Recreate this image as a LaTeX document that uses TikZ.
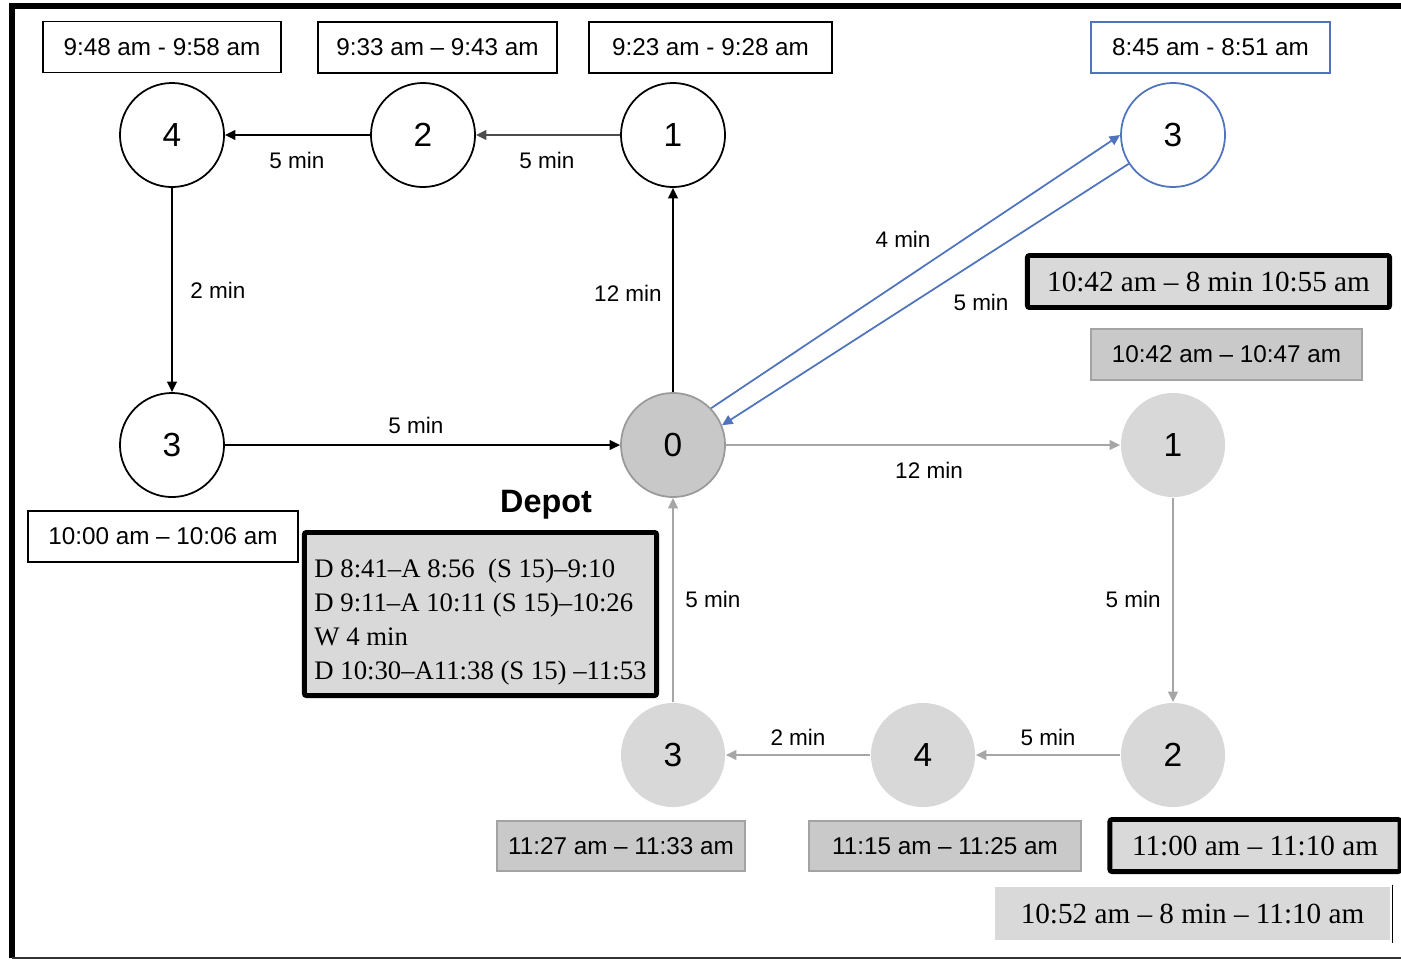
\documentclass[tikz,border=0pt]{standalone}
\usepackage{fontspec}
\setmainfont{Liberation Sans}
\newfontfamily\timesfont[Ligatures=TeX]{Liberation Serif}
\usetikzlibrary{arrows.meta}

\begin{document}
\begin{tikzpicture}[x=0.01cm, y=-0.01cm,
  visitNode/.style={circle, draw=black, line width=0.5pt, fill=white, minimum size=1.04cm, inner sep=0pt, font=\fontsize{9.5}{11}\selectfont},
  blueNode/.style={visitNode, draw=lineBlue},
  grayNode/.style={visitNode, draw=none, fill=colStop},
  depotNode/.style={visitNode, draw=lineDepot, fill=colDepot},
  timeBox/.style={rectangle, draw=black, line width=0.5pt, fill=white, inner sep=0pt, minimum height=0.51cm, font=\fontsize{6.9}{8}\selectfont},
  grayBox/.style={timeBox, draw=lineBox, fill=colBox},
  boldBox/.style={rectangle, draw=black, line width=1.4pt, fill=colNote, rounded corners=0.6pt, inner sep=0pt, minimum height=0.52cm, font=\timesfont\fontsize{8.3}{9.7}\selectfont},
  minLabel/.style={font=\fontsize{6.4}{7.5}\selectfont, inner sep=0pt},
  edgeBlack/.style={draw=black, line width=0.5pt, -{Triangle[length=3pt,width=2.8pt]}},
  edgeBlue/.style={edgeBlack, draw=lineBlue, -{Triangle[length=3pt,width=2.8pt,fill=lineBlue]}},
  edgeGray/.style={edgeBlack, draw=lineGray, -{Triangle[length=3pt,width=2.8pt,fill=lineGray]}}
]

% Colours
\definecolor{lineBlue}{HTML}{4F74BD}
\definecolor{lineGray}{HTML}{A6A6A6}
\definecolor{lineDepot}{HTML}{9A9A9A}
\definecolor{lineBox}{HTML}{A3A3A3}
\definecolor{colStop}{HTML}{D8D8D8}
\definecolor{colDepot}{HTML}{C8C8C8}
\definecolor{colBox}{HTML}{C9C9C9}
\definecolor{colNote}{HTML}{D9D9D9}

\useasboundingbox (0,0) rectangle (1401,960);

% Frame
\draw[line width=1.7pt] (12,958) -- (12,6) -- (1401,6);
\draw[line width=0.5pt, black!80] (12,958) -- (1401,958);

% Stops of the first route
\node[visitNode] (a4) at (172,135) {4};
\node[visitNode] (a2) at (423,135) {2};
\node[visitNode] (a1) at (673,135) {1};
\node[blueNode]  (b3) at (1173,135) {3};
\node[visitNode] (a3) at (172,445) {3};
\node[depotNode] (n0) at (673,445) {0};

% Stops of the second route
\node[grayNode] (g1) at (1173,445) {1};
\node[grayNode] (g2) at (1173,755) {2};
\node[grayNode] (g4) at (923,755) {4};
\node[grayNode] (g3) at (673,755) {3};

\node[font=\fontsize{9.2}{11}\selectfont\bfseries] (depot) at (546,505) {Depot};

% Time windows
\node[timeBox, minimum width=2.38cm] (t4) at (162,47) {9:48 am - 9:58 am};
\node[timeBox, minimum width=2.39cm] (t2) at (437.5,47.5) {9:33 am -- 9:43 am};
\node[timeBox, minimum width=2.43cm] (t1) at (710.5,47.5) {9:23 am - 9:28 am};
\node[timeBox, draw=lineBlue, minimum width=2.39cm] (tb3) at (1210.5,47.5) {8:45 am - 8:51 am};
\node[timeBox, minimum width=2.70cm] (t3) at (163,536.5) {10:00 am -- 10:06 am};
\node[grayBox, minimum width=2.71cm] (tg1) at (1226.5,354.5) {10:42 am -- 10:47 am};
\node[grayBox, minimum width=2.48cm, minimum height=0.50cm] (tg3) at (621,846) {11:27 am -- 11:33 am};
\node[grayBox, minimum width=2.72cm, minimum height=0.50cm] (tg4) at (945,846) {11:15 am -- 11:25 am};

% Notes in serif
\node[boldBox, minimum width=3.62cm] (nb3) at (1208.5,281.5) {10:42 am -- 8 min 10:55 am};
\node[boldBox, minimum width=2.90cm] (ng2) at (1255,845.5) {11:00 am -- 11:10 am};
\node[boldBox, draw=none, fill=colNote, rounded corners=0pt, minimum width=3.95cm, minimum height=0.53cm] (nw2) at (1192.5,913.5) {10:52 am -- 8 min -- 11:10 am};
\draw[line width=0.5pt] (nw2.north east) -- (nw2.south east);
\node[boldBox, align=left, minimum width=3.52cm, minimum height=1.63cm, font=\timesfont\fontsize{7.6}{9.7}\selectfont] (plan) at (480.5,614)
  {\rule{0pt}{10pt}D 8:41--A 8:56\ \ (S 15)--9:10\\D 9:11--A 10:11 (S 15)--10:26\\W 4 min\\D 10:30--A11:38 (S 15) --11:53};

% Connectors, first route
\draw[edgeBlack] (a2) -- (a4);
\draw[edgeBlack, draw=black!70] (a1) -- (a2);
\draw[edgeBlack] (n0) -- (a1);
\draw[edgeBlack] (a4) -- (a3);
\draw[edgeBlack] (a3) -- (n0);
\draw[edgeBlue] (n0.44) -- (b3.180);
\draw[edgeBlue] (b3.213) -- (n0.22);

% Connectors, second route
\draw[edgeGray] (n0) -- (g1);
\draw[edgeGray] (g1) -- (g2);
\draw[edgeGray] (g2) -- (g4);
\draw[edgeGray] (g4) -- (g3);
\draw[edgeGray] (g3) -- (n0);

% Travel times
\node[minLabel] (m24) at (297,160) {5 min};
\node[minLabel] (m12) at (547,160) {5 min};
\node[minLabel] (m43) at (218,290) {2 min};
\node[minLabel] (m01) at (628,293) {12 min};
\node[minLabel] (m03) at (903,239) {4 min};
\node[minLabel] (m30) at (981,302) {5 min};
\node[minLabel] (m3d) at (416,425) {5 min};
\node[minLabel] (mg01) at (929,470) {12 min};
\node[minLabel] (mg30) at (713,599) {5 min};
\node[minLabel] (mg12) at (1133,599) {5 min};
\node[minLabel] (mg43) at (798,737) {2 min};
\node[minLabel] (mg24) at (1048,737) {5 min};

\end{tikzpicture}
\end{document}
